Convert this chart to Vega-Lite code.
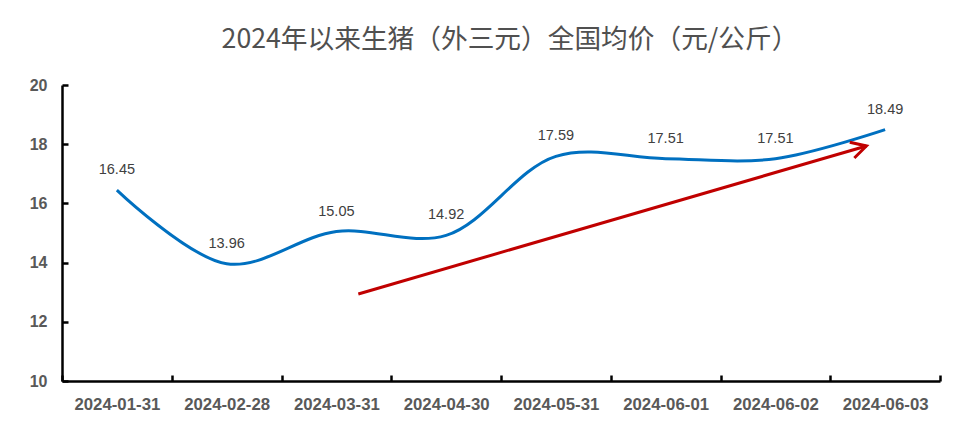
{
  "$schema": "https://vega.github.io/schema/vega-lite/v6.json",
  "width": 878,
  "height": 296,
  "autosize": {"type": "none"},
  "padding": {"left": 62, "top": 85, "right": 31, "bottom": 65},
  "background": "white",
  "title": {
    "text": "2024年以来生猪（外三元）全国均价（元/公斤）",
    "font": "Noto Sans CJK SC",
    "fontSize": 26.7,
    "fontWeight": "normal",
    "color": "#505050",
    "anchor": "middle",
    "offset": 23,
    "dx": 9
  },
  "config": {"view": {"stroke": null}, "axis": {"grid": false}},
  "datasets": {
    "price": [
      {"date": "2024-01-31", "price": 16.45},
      {"date": "2024-02-28", "price": 13.96},
      {"date": "2024-03-31", "price": 15.05},
      {"date": "2024-04-30", "price": 14.92},
      {"date": "2024-05-31", "price": 17.59},
      {"date": "2024-06-01", "price": 17.51},
      {"date": "2024-06-02", "price": 17.51},
      {"date": "2024-06-03", "price": 18.49}
    ],
    "arrow": [
      {"ax": 2.7, "ay": 12.94},
      {"ax": 7.33, "ay": 17.94}
    ],
    "head": [
      {"ax": 7.33, "ay": 17.94}
    ]
  },
  "layer": [
    {
      "data": {"name": "price"},
      "encoding": {
        "x": {
          "field": "date",
          "type": "ordinal",
          "sort": null,
          "scale": {"type": "band", "paddingInner": 0, "paddingOuter": 0},
          "axis": {
            "title": null,
            "labelAngle": 0,
            "labelFont": "Liberation Sans",
            "labelFontWeight": "bold",
            "labelFontSize": 16.8,
            "labelColor": "#595959",
            "labelPadding": 21,
            "domainColor": "black",
            "domainWidth": 2.5,
            "tickColor": "black",
            "tickWidth": 2.5,
            "tickSize": -6,
            "tickBand": "extent"
          }
        },
        "y": {
          "field": "price",
          "type": "quantitative",
          "scale": {"domain": [10, 20], "nice": false, "zero": false},
          "axis": {
            "title": null,
            "values": [10, 12, 14, 16, 18, 20],
            "labelFont": "Liberation Sans",
            "labelFontWeight": "bold",
            "labelFontSize": 16,
            "labelColor": "#595959",
            "labelPadding": 21,
            "domainColor": "black",
            "domainWidth": 2.5,
            "tickColor": "black",
            "tickWidth": 2.5,
            "tickSize": -6
          }
        }
      },
      "layer": [
        {"mark": {"type": "line", "interpolate": "catmull-rom", "color": "#0070C0", "strokeWidth": 3}},
        {
          "mark": {"type": "text", "dy": -20, "font": "Liberation Sans", "fontSize": 14.5, "color": "#404040"},
          "encoding": {"text": {"field": "price", "type": "quantitative", "format": ".2f"}}
        }
      ]
    },
    {
      "encoding": {
        "x": {"field": "ax", "type": "quantitative", "scale": {"domain": [0, 8], "nice": false, "zero": false}, "axis": null},
        "y": {"field": "ay", "type": "quantitative", "scale": {"domain": [10, 20], "nice": false, "zero": false}, "axis": null}
      },
      "layer": [
        {"data": {"name": "arrow"}, "mark": {"type": "line", "color": "#C00000", "strokeWidth": 3}},
        {
          "data": {"name": "head"},
          "mark": {
            "type": "point",
            "shape": "M-1,-0.55L0,0L-1,0.55",
            "filled": false,
            "stroke": "#C00000",
            "strokeWidth": 3,
            "opacity": 1,
            "size": 900,
            "angle": -16,
            "strokeJoin": "miter"
          }
        }
      ]
    }
  ],
  "resolve": {"scale": {"x": "independent", "y": "independent"}}
}
